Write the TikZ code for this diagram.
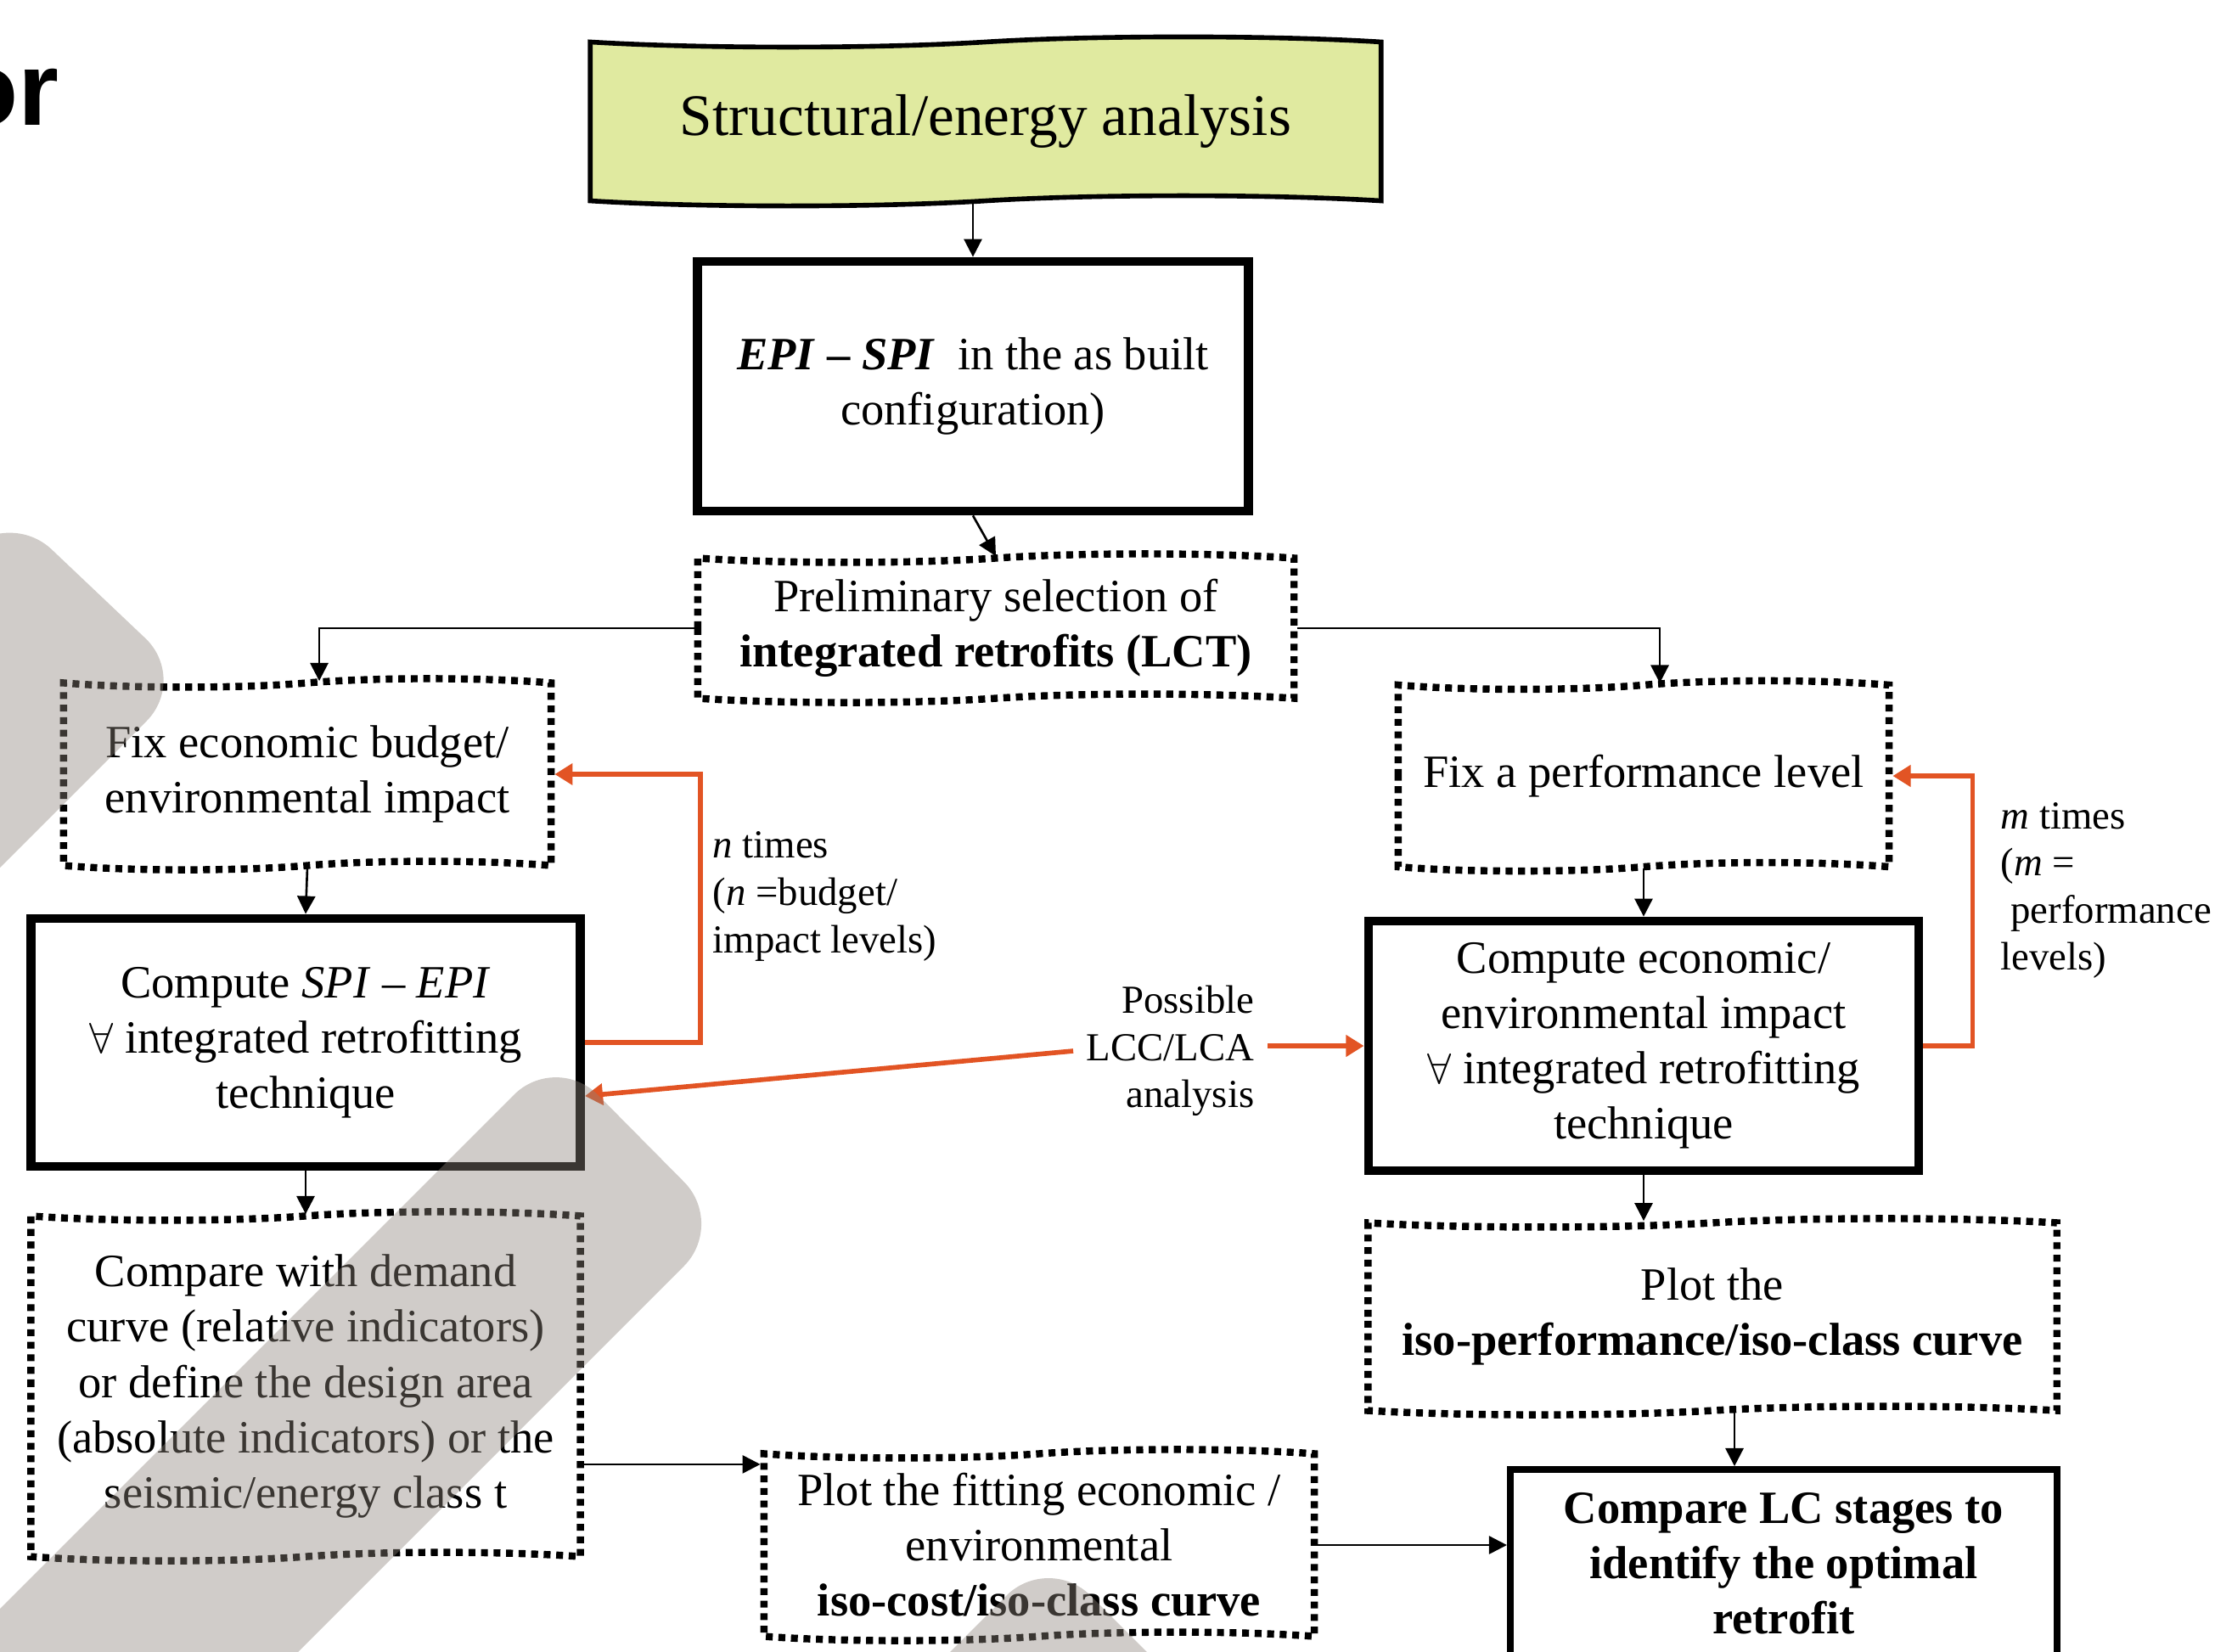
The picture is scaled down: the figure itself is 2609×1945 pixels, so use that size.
\documentclass[tikz,border=0pt]{standalone}
\usepackage{fontspec}
\setmainfont{Liberation Serif}
\newfontfamily\slidefont{Liberation Sans}
\usetikzlibrary{shapes.symbols, arrows.meta}
\definecolor{loopred}{RGB}{226,84,36}
\definecolor{boxyellow}{RGB}{224,234,160}
\definecolor{shade}{RGB}{141,132,123}

\begin{document}
\begin{tikzpicture}[x=0.01cm, y=-0.01cm,
    >={Triangle[length=6pt,width=6pt]},
    every node/.style={font=\fontsize{15.5}{18.5}\selectfont, align=center},
    solidbox/.style={draw, rectangle, line width=3pt, inner sep=0pt},
    dotbox/.style={draw, tape, line width=2.4pt, dash pattern=on 2.3pt off 1.9pt, tape bend height=0.1cm, inner sep=0pt},
    note/.style={font=\fontsize{13.3}{15.8}\selectfont, inner sep=0pt},
    flow/.style={->, line width=0.75pt},
    loopline/.style={-{Triangle[length=6pt,width=7pt]}, draw=loopred, line width=1.6pt},
    blob/.style={fill=shade, fill opacity=0.41, rounded corners=0.7cm}]
    \useasboundingbox (0,0) rectangle (2609,1945);
    \clip (0,0) rectangle (2609,1945);

    \node[font=\slidefont\bfseries\fontsize{35}{40}\selectfont, anchor=base east, inner sep=0pt] (slidetitle) at (70,147) {or};

    \node[draw, tape, fill=boxyellow, line width=1.6pt, tape bend height=0.12cm, minimum width=9.31cm, minimum height=1.99cm, font=\fontsize{19.7}{23}\selectfont] (top) at (1161,143) {Structural/energy analysis};
    \node[solidbox, minimum width=6.49cm, minimum height=2.94cm] (epi) at (1146,455) {\textbf{\textit{EPI} – \textit{SPI}}\ \ in the as built\\configuration)};
    \node[dotbox, minimum width=7.02cm, minimum height=1.75cm] (prelim) at (1173,740) {Preliminary selection of\\\textbf{integrated retrofits (LCT)}};

    % left branch
    \node[dotbox, minimum width=5.74cm, minimum height=2.25cm] (budget) at (362,912) {Fix economic budget/\\environmental impact};
    \node[solidbox, minimum width=6.47cm, minimum height=2.92cm] (spi) at (360,1228) {Compute \textit{SPI} – \textit{EPI}\\$\forall$ integrated retrofitting\\technique};
    \node[dotbox, minimum width=6.47cm, minimum height=4.11cm] (compdem) at (360,1633) {Compare with demand\\curve (relative indicators)\\or define the design area\\(absolute indicators) or the\\seismic/energy class t};
    \node[dotbox, minimum width=6.48cm, minimum height=2.25cm] (plotfit) at (1224,1820) {Plot the fitting economic /\\environmental\\\textbf{iso-cost/iso-class curve}};

    % right branch
    \node[dotbox, minimum width=5.78cm, minimum height=2.24cm] (perf) at (1936,914) {Fix a performance level};
    \node[solidbox, minimum width=6.48cm, minimum height=2.94cm] (econ) at (1936,1232) {Compute economic/\\environmental impact\\$\forall$ integrated retrofitting\\technique};
    \node[dotbox, minimum width=8.11cm, minimum height=2.31cm] (isoperf) at (2017,1551) {Plot the\\\textbf{iso-performance/iso-class curve}};
    \node[solidbox, line width=2.2pt, minimum width=6.44cm, minimum height=2.22cm, font=\bfseries\fontsize{15.5}{18.5}\selectfont] (lc) at (2101,1842) {Compare LC stages to\\identify the optimal\\retrofit};

    \node[note, anchor=west, align=left] (ntimes) at (839,1056) {\textit{n} times\\(\textit{n} =budget/\\impact levels)};
    \node[note, anchor=west, align=left] (mtimes) at (2356,1049) {\textit{m} times\\(\textit{m} =\\\hspace*{0.25em}performance\\levels)};
    \node[note, anchor=east, align=right, inner xsep=0.15cm] (lcc) at (1493,1238) {Possible\\LCC/LCA\\analysis};

    \draw[flow] (epi.north |- top.south) -- (epi.north);
    \draw[flow] (epi.south) -- (prelim.north);
    \coordinate (budgetin) at ([xshift=0.14cm]budget.north);
    \coordinate (perfin) at ([xshift=0.19cm]perf.north);
    \draw[flow] (prelim.west) -| (budgetin);
    \draw[flow] (prelim.east) -| (perfin);
    \draw[flow] (budget.south) -- (spi.north);
    \draw[flow] (spi.south) -- (compdem.north);
    \coordinate (fitin) at ([yshift=-0.17cm]plotfit.north west);
    \draw[flow] (compdem.east |- fitin) -- (fitin);
    \draw[flow] (plotfit.east) -- (plotfit.east -| lc.west);
    \draw[flow] (perf.south) -- (econ.north);
    \draw[flow] (econ.south) -- (econ.south |- isoperf.north);
    \coordinate (lcin) at ([xshift=0.26cm]isoperf.south);
    \draw[flow] (lcin) -- (lcin |- lc.north);

    % loops
    \draw[loopline] (spi.east) -- ++(136,0) |- (budget.east);
    \draw[loopline] (econ.east) -- ++(58,0) |- (perf.east);
    \draw[loopline] (lcc.east |- econ.west) -- (econ.west);
    \draw[loopline] (lcc.west) -- ([yshift=-0.63cm]spi.east);

    % slide decoration on top
    \fill[blob] (10,599) -- (222,800) -- (-200,1222) -- (-412,1021) -- cycle;
    \fill[blob] (655,1240) -- (855,1442) -- (-145,2442) -- (-345,2240) -- cycle;
    \fill[blob] (1235,1830) -- (1535,2130) -- (1235,2430) -- (935,2130) -- cycle;
\end{tikzpicture}
\end{document}
